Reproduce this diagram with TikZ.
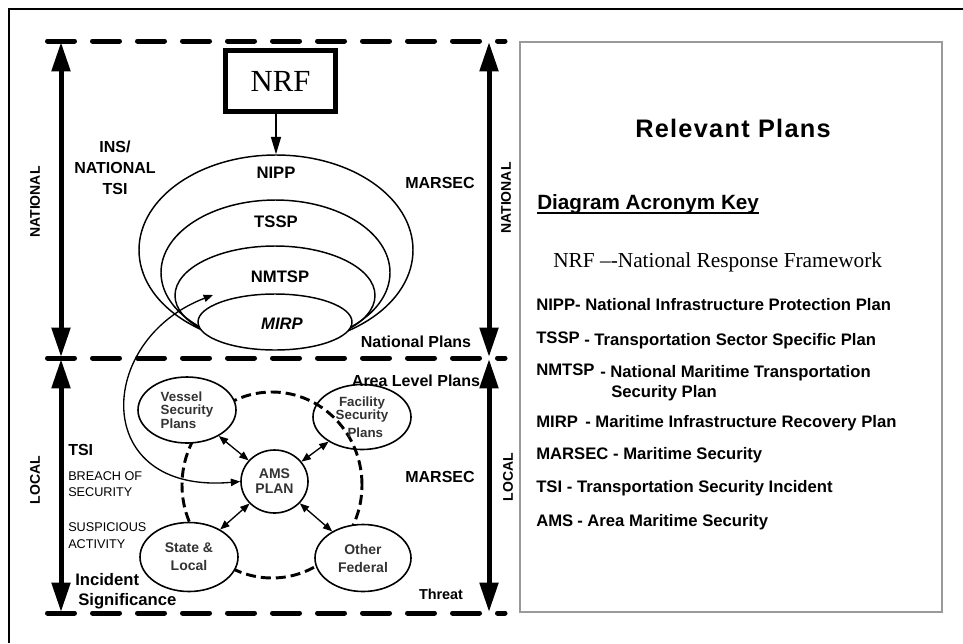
\documentclass[tikz,border=0pt]{standalone}
\usepackage{fontspec}
\setmainfont{Liberation Serif}
\newfontfamily\arialf{Liberation Sans}
\newfontfamily\arialsp[LetterSpace=5]{Liberation Sans}
\usetikzlibrary{arrows.meta,shapes.geometric}
\newcommand{\setfs}[2]{\fontsize{#1}{#2}\selectfont}
\definecolor{boxgray}{HTML}{9A9A9A}
\definecolor{txtgray}{HTML}{333333}
\tikzset{
  every node/.style={font=\arialf\bfseries\setfs{12.5pt}{15pt}, inner sep=0pt},
  bigarrow/.style={line width=3.75pt, {Triangle[width=13.5pt,length=22pt]}-{Triangle[width=13.5pt,length=22pt]}},
  dashline/.style={line width=3.75pt, line cap=round, dash pattern=on 20.25pt off 13.5pt},
  ringline/.style={line width=2.2pt, dash pattern=on 7.5pt off 3.75pt},
  planell/.style={draw, ellipse, line width=1.1pt},
  smallell/.style={draw, ellipse, line width=1.2pt, text=txtgray, font=\arialf\bfseries\setfs{10pt}{10pt}, align=center},
  twoway/.style={line width=1pt, {Triangle[width=5.5pt,length=7pt]}-{Triangle[width=5.5pt,length=7pt]}},
  keytxt/.style={anchor=base west, font=\arialf\bfseries\setfs{12.5pt}{15pt}},
  sidetxt/.style={anchor=base, font=\arialf\bfseries\setfs{12pt}{14pt}},
  vlabel/.style={rotate=90, font=\arialf\bfseries\setfs{10.5pt}{12pt}}
}
\begin{document}
\begin{tikzpicture}[x=0.75pt,y=-0.75pt]
\useasboundingbox (0,0) rectangle (963,643);
% outer frame (runs off the right and bottom edges)
\draw[line width=1.5pt] (963,9) -- (9,9) -- (9,643);
% right panel
\draw[boxgray, line width=1.5pt] (520,42) rectangle (942,612);

% dashed level lines
\coordinate (tl) at (47.5,41);  \coordinate (tr) at (505,41);
\coordinate (ml) at (47.5,358); \coordinate (mr) at (505,358);
\coordinate (bl) at (47.5,613); \coordinate (br) at (505,613);
\draw[dashline] (tl) -- (tr);
\draw[dashline] (ml) -- (mr);
\draw[dashline] (bl) -- (br);

% vertical level arrows
\coordinate (la1) at (61,42);  \coordinate (la2) at (61,357);
\coordinate (la3) at (61,359); \coordinate (la4) at (61,612);
\coordinate (ra1) at (489,42);  \coordinate (ra2) at (489,357);
\coordinate (ra3) at (489,359); \coordinate (ra4) at (489,612);
\draw[bigarrow] (la1) -- (la2);
\draw[bigarrow] (la3) -- (la4);
\draw[bigarrow] (ra1) -- (ra2);
\draw[bigarrow] (ra3) -- (ra4);

\node[vlabel] (natL) at (35,202) {NATIONAL};
\node[vlabel] (natR) at (506,198) {NATIONAL};
\node[vlabel] (locL) at (35,480) {LOCAL};
\node[vlabel] (locR) at (508,477) {LOCAL};

% national plans
\node[planell, minimum width={274*0.75pt}, minimum height={190*0.75pt}] (nipp) at (276,250) {};
\node[planell, minimum width={229*0.75pt}, minimum height={145*0.75pt}] (tssp) at (275.5,272.5) {};
\node[planell, minimum width={200*0.75pt}, minimum height={99*0.75pt}] (nmtsp) at (275,295.5) {};
\node[planell, fill=white, minimum width={154*0.75pt}, minimum height={56*0.75pt}] (mirp) at (275,322) {};
\node[anchor=base] (nippt) at (276,178) {NIPP};
\node[anchor=base] (tsspt) at (276,227) {TSSP};
\node[anchor=base] (nmtspt) at (280,282) {NMTSP};
\node[anchor=base, font=\arialf\bfseries\itshape\setfs{12.5pt}{15pt}] (mirpt) at (282,329) {MIRP};

% NRF box
\node[draw, line width=3.75pt, minimum width={110*0.75pt}, minimum height={61*0.75pt}, font=\rmfamily\setfs{23pt}{25pt}] (nrf) at (280.5,81) {NRF};
\draw[line width=1pt, -{Triangle[width=7.5pt,length=13pt]}] (nrf.south -| nipp.north) -- (nipp.north);

% side texts upper
\node[sidetxt] (ins1) at (115,152) {INS/};
\node[sidetxt] (ins2) at (115,173) {NATIONAL};
\node[sidetxt] (ins3) at (115,194) {TSI};
\node[sidetxt] (mars1) at (440,188) {MARSEC};
\node[sidetxt] (natplans) at (416,347) {National Plans};
\node[sidetxt] (arealev) at (416,386) {Area Level Plans};

% area level ring and plans
\node[draw, ellipse, ringline, minimum width={180*0.75pt}, minimum height={186*0.75pt}] (ring) at (272,485) {};
\node[smallell, fill=white, minimum width={98*0.75pt}, minimum height={66*0.75pt}, align=left] (vessel) at (187,410) {Vessel\\Security\\Plans};
\node[smallell, minimum width={98*0.75pt}, minimum height={65*0.75pt}] (facility) at (362,417) {Facility\\Security\\[3pt]\hspace*{5pt}Plans};
\node[smallell, fill=white, minimum width={98*0.75pt}, minimum height={69*0.75pt}, font=\arialf\bfseries\setfs{10.5pt}{13.5pt}] (state) at (189,557) {State \&\\Local};
\node[smallell, fill=white, minimum width={96*0.75pt}, minimum height={67*0.75pt}, font=\arialf\bfseries\setfs{10.5pt}{13.5pt}] (other) at (363,558) {Other\\Federal};
\node[smallell, fill=white, minimum width={67*0.75pt}, minimum height={63*0.75pt}, font=\arialf\bfseries\setfs{10.5pt}{11.25pt}] (ams) at (274.5,481.5) {AMS\\PLAN};

\draw[twoway] (ams) -- (vessel);
\draw[twoway] (ams) -- (facility);
\draw[twoway] (ams) -- (state);
\draw[twoway] (ams) -- (other);

\coordinate (nmtspin) at (213,295);
\draw[twoway] (nmtspin) .. controls (95,340) and (90,495) .. (ams.west);

% side texts lower
\node[anchor=base west, font=\arialf\bfseries\setfs{12pt}{14pt}] (tsiL) at (68,455) {TSI};
\node[anchor=base west, font=\arialf\setfs{9.5pt}{11pt}] (br1) at (68,480.5) {BREACH OF};
\node[anchor=base west, font=\arialf\setfs{9.5pt}{11pt}] (br2) at (68,496.5) {SECURITY};
\node[anchor=base west, font=\arialf\setfs{9.5pt}{11pt}] (su1) at (68,531.5) {SUSPICIOUS};
\node[anchor=base west, font=\arialf\setfs{9.5pt}{11pt}] (su2) at (68,548.5) {ACTIVITY};
\node[anchor=base west] (inc1) at (75,585) {Incident};
\node[anchor=base west] (inc2) at (78,605) {Significance};
\node[sidetxt] (mars2) at (440,482) {MARSEC};
\node[anchor=base, font=\arialf\bfseries\setfs{10.8pt}{13pt}] (threat) at (441,599) {Threat};

% right panel texts
\node[anchor=base, font=\arialsp\bfseries\setfs{19pt}{22pt}] (relev) at (733,137) {Relevant Plans};
\node[anchor=base west, font=\arialf\bfseries\setfs{15.5pt}{18pt}] (dak) at (537,209) {Diagram Acronym Key};
\draw[line width=1.2pt] ([yshift=-3pt]dak.base west) -- ([yshift=-3pt]dak.base east);
\node[anchor=base west, font=\rmfamily\setfs{16pt}{18pt}] (knrf) at (553,267) {NRF \textendash{}-National Response Framework};
\node[keytxt] (knipp) at (536,310) {NIPP- National Infrastructure Protection Plan};
\node[keytxt] (ktssp) at (536,343) {TSSP};
\node[keytxt] (ktssp2) at (584,345) {- Transportation Sector Specific Plan};
\node[keytxt] (knmtsp) at (536,375) {NMTSP};
\node[keytxt] (knmtsp2) at (600,377) {- National Maritime Transportation};
\node[keytxt] (knmtsp3) at (611,397) {Security Plan};
\node[keytxt] (kmirp) at (536,427) {MIRP};
\node[keytxt] (kmirp2) at (585,427) {- Maritime Infrastructure Recovery Plan};
\node[keytxt] (kmarsec) at (536,459) {MARSEC - Maritime Security};
\node[keytxt] (ktsi) at (536,492) {TSI - Transportation Security Incident};
\node[keytxt] (kams) at (536,526) {AMS};
\node[keytxt] (kams2) at (577,526) {- Area Maritime Security};
\end{tikzpicture}
\end{document}
